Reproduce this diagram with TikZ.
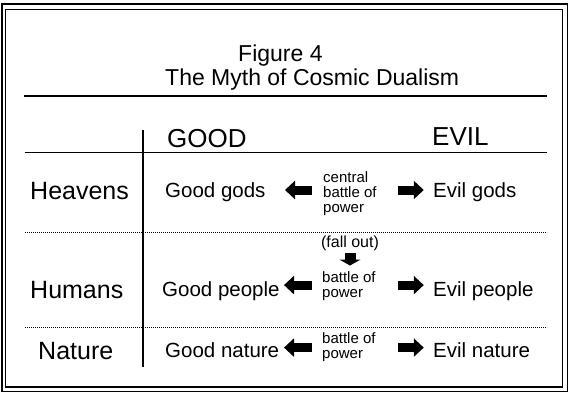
\documentclass[tikz,border=0pt]{standalone}
\usepackage{fontspec}
\setmainfont{Liberation Sans}
\usetikzlibrary{arrows.meta}

\tikzset{
  titletext/.style={anchor=base west, inner sep=0pt, font=\fontsize{23}{23}\selectfont},
  colhead/.style={anchor=base west, inner sep=0pt, font=\fontsize{26}{26}\selectfont},
  rowlabel/.style={anchor=base west, inner sep=0pt, font=\fontsize{25}{25}\selectfont},
  entry/.style={anchor=base west, inner sep=0pt, font=\fontsize{20.5}{21}\selectfont},
  fight/.style={anchor=west, inner sep=0pt, align=left, font=\fontsize{15}{15}\selectfont},
  fatarrow/.style={line width=9pt, -{Triangle[length=10pt,width=18pt]}},
  droparrow/.style={line width=11pt, -{Triangle[length=6pt,width=21pt]}},
  rowsep/.style={line width=0.8pt, dash pattern=on 0.8pt off 1.2pt},
}

\begin{document}
\begin{tikzpicture}[x=1pt,y=-1pt]
  \useasboundingbox (0,0) rectangle (570,393);
  % double frame
  \draw[line width=1.5pt] (2,4) rectangle (567.5,391.5);
  \draw[line width=1.3pt] (5.5,9.5) rectangle (562.5,387);
  % heading
  \node[titletext] (fig) at (238,62) {Figure 4};
  \node[titletext] (title) at (165,86) {The Myth of Cosmic Dualism};
  \draw[line width=2pt] (24,96) -- (547,96);
  % table grid
  \node[colhead] (good) at (167,147) {GOOD};
  \node[colhead] (evil) at (432,146) {EVIL};
  \draw[line width=1.5pt] (25,152.5) -- (547,152.5);
  \draw[line width=1.5pt] (143,130) -- (143,367);
  \draw[rowsep] (25,232) -- (547,232);
  \draw[rowsep] (25,327) -- (547,327);
  % heavens
  \node[rowlabel] (heavens) at (30,199) {Heavens};
  \node[entry] (goodgods) at (165,197) {Good gods};
  \node[fight] (battle1) at (323,194) {central\\battle of\\power};
  \node[entry] (evilgods) at (433,197) {Evil gods};
  \draw[fatarrow] ([xshift=-11pt,yshift=4pt]battle1.west) -- +(-27pt,0);
  \draw[fatarrow] ([xshift=21pt,yshift=4pt]battle1.west -| battle1.east) -- +(26pt,0);
  \node[anchor=base, inner sep=0pt, font=\fontsize{16}{16}\selectfont] (fallout) at (350,247) {(fall out)};
  \draw[droparrow] ([yshift=-2.5pt]fallout.south) -- +(0pt,-12.5pt);
  % humans
  \node[rowlabel] (humans) at (30,298) {Humans};
  \node[entry] (goodpeople) at (162,296) {Good people};
  \node[fight] (battle2) at (322,286.6) {battle of\\power};
  \node[entry] (evilpeople) at (433,296) {Evil people};
  \draw[fatarrow] ([xshift=-10pt,yshift=1.5pt]battle2.west) -- +(-28pt,0);
  \draw[fatarrow] ([xshift=22pt,yshift=1.5pt]battle2.east) -- +(26pt,0);
  % nature
  \node[rowlabel] (nature) at (38,359) {Nature};
  \node[entry] (goodnature) at (165,357) {Good nature};
  \node[fight] (battle3) at (322,347.6) {battle of\\power};
  \node[entry] (evilnature) at (433,357) {Evil nature};
  \draw[fatarrow] ([xshift=-10pt]battle3.west) -- +(-28pt,0);
  \draw[fatarrow] ([xshift=22pt]battle3.east) -- +(26pt,0);
\end{tikzpicture}
\end{document}
